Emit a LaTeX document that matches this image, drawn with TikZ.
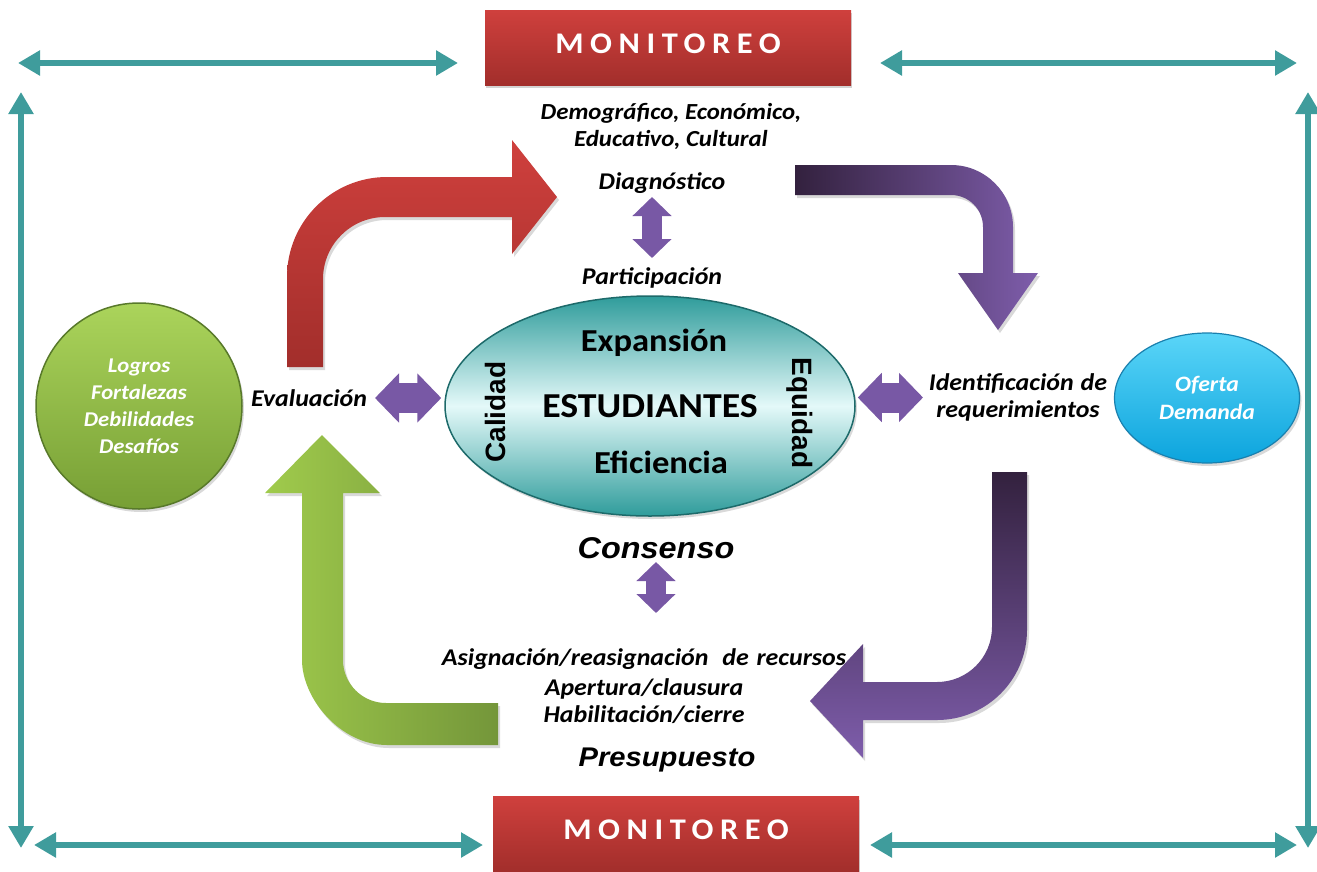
\documentclass[tikz,border=0pt]{standalone}
\usepackage{fontspec}
\setmainfont{Carlito}[FakeStretch=1.08]
\newfontfamily\arialf{Liberation Sans}
\newfontfamily\arialw{Liberation Sans}[FakeStretch=1.08]
\usetikzlibrary{arrows.meta,shadows,shapes.geometric}
\definecolor{redtop}{HTML}{CF403D}
\definecolor{redbot}{HTML}{A22E2B}
\definecolor{tealc}{HTML}{3F9C9C}
\definecolor{purc}{HTML}{7858A5}
\definecolor{purdark}{HTML}{33213E}
\definecolor{purlight}{HTML}{7E5DAB}
\definecolor{greenl}{HTML}{A0CB4C}
\definecolor{greend}{HTML}{74963A}
\definecolor{ellout}{HTML}{2F9C9B}
\definecolor{ellin}{HTML}{E4F9F9}
\definecolor{ellline}{HTML}{1D6A6A}
\definecolor{circtop}{HTML}{ABD45B}
\definecolor{circbot}{HTML}{779F35}
\definecolor{circline}{HTML}{58792A}
\definecolor{cyantop}{HTML}{5AD5F8}
\definecolor{cyanbot}{HTML}{0CA4DD}
\definecolor{cyanline}{HTML}{1A80AE}
\begin{document}
\begin{tikzpicture}[x=1pt,y=-1pt,
  lbl/.style={inner sep=0pt, align=center, font=\bfseries\itshape\fontsize{24}{27}\selectfont},
  monbox/.style={minimum width=366pt, minimum height=75pt, inner sep=0pt, top color=redtop, bottom color=redbot, text=white, font=\bfseries\fontsize{30}{30}\selectfont\addfontfeature{LetterSpace=22}, text depth=8pt, drop shadow={shadow xshift=1pt, shadow yshift=-3pt, opacity=.35}},
  tealarr/.style={draw=tealc, line width=6pt, >={Triangle[width=24pt,length=22pt]}, <->},
  purdbl/.style={draw=purc, line width=30pt, {Triangle[width=48pt,length=24pt]}-{Triangle[width=48pt,length=24pt]}},
  purdblv/.style={draw=purc, line width=20pt, {Triangle[width=38pt,length=19pt]}-{Triangle[width=38pt,length=19pt]}},
  bigshadow/.style={drop shadow={shadow xshift=2pt, shadow yshift=-3pt, opacity=.3}},
  mainlbl/.style={inner sep=0pt, font=\bfseries\fontsize{32}{32}\selectfont},
  sidelbl/.style={inner sep=0pt, font=\arialf\bfseries\fontsize{28}{28}\selectfont},
  ariallbl/.style={inner sep=0pt, font=\arialw\bfseries\itshape\fontsize{30}{30}\selectfont}]
\useasboundingbox (0,0) rectangle (1317,871);

% monitoreo boxes
\node[monbox] (montop) at (668,47.5) {MONITOREO};
\node[monbox] (monbot) at (676,834) {MONITOREO};

% teal frame arrows
\coordinate (tl1) at (18,63); \coordinate (tl2) at (458,63);
\coordinate (tr1) at (880,63); \coordinate (tr2) at (1297,63);
\coordinate (bl1) at (34,845); \coordinate (bl2) at (483,845);
\coordinate (br1) at (870,845); \coordinate (br2) at (1297,845);
\coordinate (vl1) at (21,92); \coordinate (vl2) at (21,848);
\coordinate (vr1) at (1308,92); \coordinate (vr2) at (1308,848);
\draw[tealarr] (tl1) -- (tl2);
\draw[tealarr] (tr1) -- (tr2);
\draw[tealarr] (bl1) -- (bl2);
\draw[tealarr] (br1) -- (br2);
\draw[tealarr] (vl1) -- (vl2);
\draw[tealarr] (vr1) -- (vr2);

% big bent arrows
\shade[top color=redtop, bottom color=redbot, bigshadow]
  (287,367) -- (287,277) .. controls (287,221.8) and (331.8,177) .. (387,177)
  -- (512,177) -- (512,140) -- (557,197) -- (512,254) -- (512,217)
  -- (385,217) .. controls (350.8,217) and (323,244.8) .. (323,279)
  -- (323,367) -- cycle;
\shade[left color=purdark, right color=purlight, bigshadow]
  (795,165) -- (951,165) .. controls (985.2,165) and (1013,192.8) .. (1013,227)
  -- (1013,273) -- (1038,273) -- (998,330) -- (958,273) -- (983,273)
  -- (983,227) .. controls (983,209.3) and (968.7,195) .. (951,195)
  -- (795,195) -- cycle;
\shade[top color=purdark, bottom color=purlight, bigshadow]
  (992,472) -- (1027,472) -- (1027,630) .. controls (1027,679.7) and (986.7,720) .. (937,720)
  -- (863,720) -- (863,758) -- (810,701) -- (863,644) -- (863,682)
  -- (937,682) .. controls (967.4,682) and (992,657.4) .. (992,627)
  -- cycle;
\shade[left color=greenl, right color=greend, bigshadow]
  (322,435) -- (380,493) -- (343,493) -- (343,660) .. controls (343,683.7) and (362.3,703) .. (386,703)
  -- (498,703) -- (498,745) -- (387,745) .. controls (340.1,745) and (302,698.1) .. (302,660)
  -- (302,493) -- (265,493) -- cycle;

% central ellipse
\node[ellipse, minimum width=410pt, minimum height=220pt, inner sep=0pt,
  top color=ellout, bottom color=ellout, middle color=ellin, draw=ellline, line width=1.5pt,
  bigshadow, font=\bfseries\fontsize{35}{35}\selectfont] (est) at (650,406) {ESTUDIANTES};
\node[mainlbl] (expan) at (654,343) {Expansión};
\node[mainlbl] (efic) at (661,462) {Eficiencia};
\node[sidelbl, rotate=90] (cal) at (495,412) {Calidad};
\node[sidelbl, rotate=-90] (equ) at (800,413) {Equidad};

% green circle
\node[circle, minimum size=206pt, inner sep=0pt, top color=circtop, bottom color=circbot,
  draw=circline, line width=1.5pt, bigshadow, text=white, align=center,
  font=\bfseries\itshape\fontsize{21}{27}\selectfont] (logros) at (139,406)
  {Logros\\Fortalezas\\Debilidades\\Desafíos};

% cyan oval
\node[ellipse, minimum width=185pt, minimum height=130pt, inner sep=0pt, top color=cyantop,
  bottom color=cyanbot, draw=cyanline, line width=1.2pt, bigshadow, text=white, align=center,
  font=\bfseries\itshape\fontsize{22}{28}\selectfont] (oferta) at (1207,398) {Oferta\\Demanda};

% labels
\node[lbl, font=\bfseries\itshape\fontsize{23}{27}\selectfont] (demo) at (671,126.5) {Demográfico, Económico,\\Educativo, Cultural};
\node[lbl] (diag) at (662,183) {Diagnóstico};
\node[lbl] (part) at (652,278) {Participación};
\node[lbl] (eval) at (309,398) {Evaluación};
\node[lbl] (ident) at (1018,397.5) {Identificación\hspace{7pt}de\\requerimientos};
\node[ariallbl] (cons) at (656,548) {Consenso};
\node[lbl, font=\bfseries\itshape\fontsize{24}{30}\selectfont] (asig) at (644,686)
  {Asignación/reasignación\hspace{8pt} de\hspace{2pt} recursos\\Apertura/clausura\\[-3pt]Habilitación/cierre};
\node[ariallbl, font=\arialw\bfseries\itshape\fontsize{27}{27}\selectfont] (pres) at (667,760) {Presupuesto};

% purple double arrows
\draw[purdbl, shorten <=66pt, shorten >=3pt] (eval.center) -- (eval.center -| est.west);
\draw[purdbl, shorten <=2pt, shorten >=95pt] (est.east |- ident.center) -- (ident.center);
\draw[purdblv, shorten <=14pt, shorten >=20pt] (part.center |- diag.center) -- (part.center);
\draw[purdblv, shorten <=14pt, shorten >=73pt] (cons.center) -- (cons.center |- asig.center);
\end{tikzpicture}
\end{document}
